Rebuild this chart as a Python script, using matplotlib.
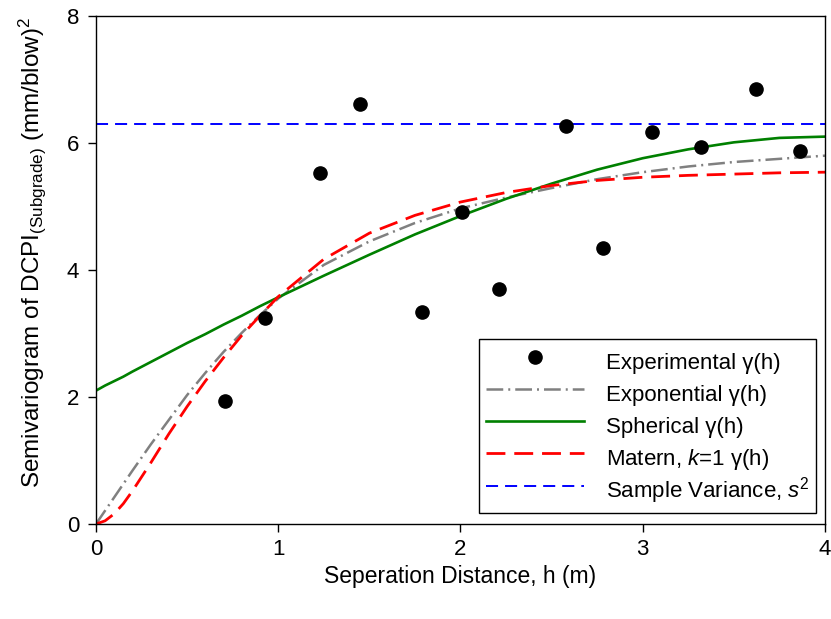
#!/usr/bin/env python3
"""
Semivariogram of subgrade DCPI with fitted models
"""

import matplotlib
matplotlib.use('Agg')
import matplotlib.pyplot as plt
from matplotlib.lines import Line2D


OUTPUT_PLOT = 'out.png'

# experimental semivariogram
H_EXP = [0.71, 0.93, 1.23, 1.45, 1.79, 2.01, 2.21, 2.58, 2.78, 3.05, 3.32, 3.62, 3.86]
G_EXP = [1.93, 3.24, 5.52, 6.62, 3.34, 4.92, 3.70, 6.26, 4.34, 6.17, 5.93, 6.85, 5.88]

# fitted model curves
H_MODEL = [0, 0.05, 0.1, 0.15, 0.2, 0.3, 0.4, 0.5, 0.6, 0.7, 0.8, 0.9, 1.0,
           1.25, 1.5, 1.75, 2.0, 2.25, 2.5, 2.75, 3.0, 3.25, 3.5, 3.75, 4.0]
G_EXPONENTIAL = [0, 0.21, 0.42, 0.63, 0.84, 1.25, 1.64, 2.03, 2.38, 2.71, 3.01, 3.29, 3.55,
                 4.08, 4.45, 4.74, 4.97, 5.14, 5.29, 5.43, 5.54, 5.63, 5.70, 5.75, 5.80]
G_SPHERICAL = [2.10, 2.18, 2.25, 2.32, 2.40, 2.55, 2.70, 2.85, 2.99, 3.14, 3.28, 3.43, 3.57,
               3.91, 4.24, 4.56, 4.85, 5.12, 5.36, 5.58, 5.76, 5.90, 6.01, 6.08, 6.10]
G_MATERN = [0, 0.05, 0.16, 0.32, 0.52, 0.96, 1.42, 1.85, 2.25, 2.62, 2.97, 3.28, 3.58,
            4.17, 4.58, 4.86, 5.07, 5.22, 5.33, 5.41, 5.46, 5.49, 5.51, 5.53, 5.54]

SAMPLE_VAR = 6.30

X_TICKS = [0, 1, 2, 3, 4]
Y_TICKS = [0, 2, 4, 6, 8]


def plot():
    plt.rcParams['font.family'] = ['Liberation Sans', 'DejaVu Sans']
    plt.rcParams['mathtext.fontset'] = 'custom'
    plt.rcParams['mathtext.rm'] = 'Liberation Sans'
    plt.rcParams['mathtext.it'] = 'Liberation Sans:italic'

    fig = plt.figure(figsize=(8.31, 6.19), dpi=100)
    ax = fig.add_axes([0.1155, 0.1535, 0.8773, 0.8207])

    exp_line, = ax.plot(H_MODEL, G_EXPONENTIAL, color='#808080', lw=1.8,
                        linestyle=(0, (6.7, 2, 0.8, 2)))
    sph_line, = ax.plot(H_MODEL, G_SPHERICAL, color='#008000', lw=1.9)
    mat_line, = ax.plot(H_MODEL, G_MATERN, color='#ff0000', lw=2.0,
                        linestyle=(0, (6.8, 3.2)))
    var_line = ax.axhline(SAMPLE_VAR, color='#0000ff', lw=1.4,
                          linestyle=(0, (6.2, 3.6)))
    ax.plot(H_EXP, G_EXP, 'o', color='black', markersize=9.5, zorder=5)

    ax.set_xlim(0, 4)
    ax.set_ylim(0, 8)
    ax.set_xticks(X_TICKS)
    ax.set_yticks(Y_TICKS)
    ax.tick_params(direction='out', length=6, width=1, labelsize=16,
                   top=False, right=False)
    ax.tick_params(axis='x', pad=5)
    ax.tick_params(axis='y', pad=6)
    for s in ax.spines.values():
        s.set_linewidth(1.0)

    ax.set_xlabel('Seperation Distance, h (m)', fontsize=16.5)
    ax.xaxis.set_label_coords(0.5, -0.08)
    ax.set_ylabel(r'Semivariogram of DCPI$_{\mathrm{(Subgrade)}}$ (mm/blow)$^{2}$', fontsize=17.5)
    ax.yaxis.set_label_coords(-0.066, 0.535)

    dot = Line2D([], [], marker='o', color='black', linestyle='none', markersize=9.5)
    handles = [dot, exp_line, sph_line, mat_line, var_line]
    labels = ['Experimental γ(h)', 'Exponential γ(h)', 'Spherical γ(h)',
              r'Matern, $\mathit{k}$=1 γ(h)', r'Sample Variance, $\mathit{s}^{2}$']
    leg = ax.legend(handles, labels, loc='lower right', bbox_to_anchor=(0.988, 0.022),
                    borderaxespad=0, fontsize=16, fancybox=False, framealpha=1,
                    edgecolor='black', handlelength=4.4, handletextpad=1.0,
                    handleheight=1.85, labelspacing=0.0, borderpad=0.3)
    leg.get_frame().set_linewidth(1.0)

    fig.savefig(OUTPUT_PLOT, dpi=100)


def main():
    plot()


if __name__ == '__main__':
    main()
